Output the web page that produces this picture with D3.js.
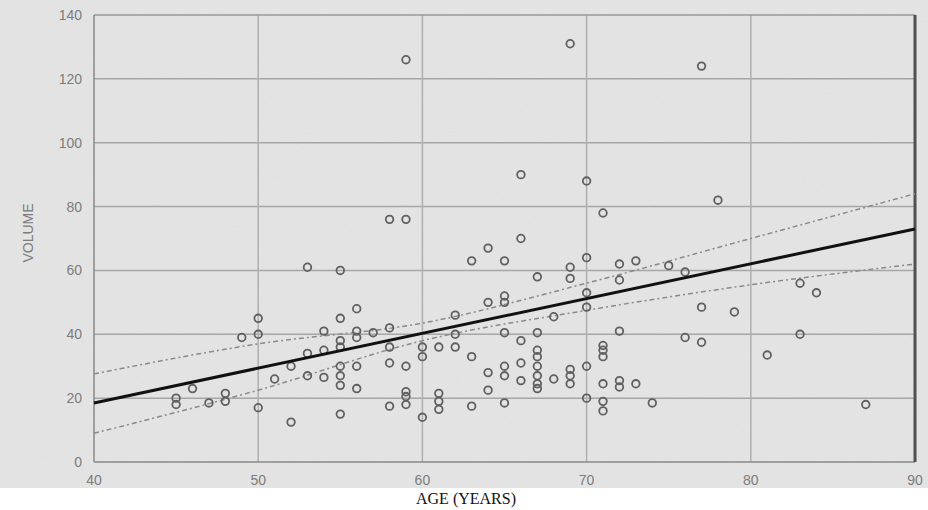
<!DOCTYPE html>
<html>
<head>
<meta charset="utf-8">
<script src="https://cdn.jsdelivr.net/npm/d3@7"></script>
<style>
  body { margin: 0; background: #ffffff; }
  svg { display: block; }
</style>
</head>
<body>
<svg id="chart" width="928" height="510"></svg>
<script>
// scatter data: age (years) and volume
const ages = [
  45, 45, 46, 47, 48, 48, 49, 50, 50, 50, 51, 52, 52,
  53, 53, 53, 54, 54, 54,
  55, 55, 55, 55, 55, 55, 55, 55,
  56, 56, 56, 56, 56, 57,
  58, 58, 58, 58, 58,
  59, 59, 59, 59, 59, 59,
  60, 60, 60, 61, 61, 61, 61, 62, 62, 62,
  63, 63, 63, 64, 64, 64, 64,
  65, 65, 65, 65, 65, 65, 65,
  66, 66, 66, 66, 66,
  67, 67, 67, 67, 67, 67, 67, 67,
  68, 68, 69, 69, 69, 69, 69, 69,
  70, 70, 70, 70, 70, 70,
  71, 71, 71, 71, 71, 71, 71,
  72, 72, 72, 72, 72, 73, 73, 74, 75, 76, 76,
  77, 77, 77, 78, 79, 81, 83, 83, 84, 87
];
const volumes = [
  20, 18, 23, 18.5, 21.5, 19, 39, 45, 40, 17, 26, 30, 12.5,
  61, 34, 27, 41, 35, 26.5,
  60, 45, 38, 36, 30, 27, 24, 15,
  48, 41, 39, 30, 23, 40.5,
  76, 42, 36, 31, 17.5,
  126, 76, 30, 22, 20.5, 18,
  36, 33, 14, 36, 21.5, 19, 16.5, 46, 40, 36,
  63, 33, 17.5, 67, 50, 28, 22.5,
  63, 52, 50, 40.5, 30, 27, 18.5,
  90, 70, 38, 31, 25.5,
  58, 40.5, 35, 33, 30, 27, 24.5, 23,
  45.5, 26, 131, 61, 57.5, 29, 27, 24.5,
  88, 64, 53, 48.5, 30, 20,
  78, 36.5, 35, 33, 24.5, 19, 16,
  62, 57, 41, 25.5, 23.5, 63, 24.5, 18.5, 61.5, 59.5, 39,
  124, 48.5, 37.5, 82, 47, 33.5, 56, 40, 53, 18
];

// fitted line and its confidence band
const fitAges = [40, 90];
const fitVolumes = [18.5, 73];
const bandAges = [40, 50, 60, 70, 80, 90];
const bandUpper = [27.6, 37, 43.5, 56, 70, 84];
const bandLower = [9, 22.5, 38, 47.5, 55.5, 62];

const xTicks = [40, 50, 60, 70, 80, 90];
const yTicks = [0, 20, 40, 60, 80, 100, 120, 140];

const svg = d3.select("#chart"),
    width = +svg.attr("width"),
    height = +svg.attr("height");

const x = d3.scaleLinear().domain([40, 90]).range([94, 915]);
const y = d3.scaleLinear().domain([0, 140]).range([462, 15]);

// scanned paper background with a bit of grain
const defs = svg.append("defs");
const grain = defs.append("filter").attr("id", "grain")
    .attr("x", 0).attr("y", 0).attr("width", "100%").attr("height", "100%");
grain.append("feTurbulence")
    .attr("type", "fractalNoise").attr("baseFrequency", 0.9).attr("numOctaves", 2)
    .attr("seed", 3).attr("result", "noise");
grain.append("feColorMatrix").attr("type", "matrix")
    .attr("values", "0 0 0 0 0.5  0 0 0 0 0.5  0 0 0 0 0.5  0 0 0 0.14 0");

svg.append("rect")
    .attr("width", width).attr("height", 488)
    .attr("fill", "#e6e6e6");
svg.append("rect")
    .attr("width", width).attr("height", 488)
    .attr("filter", "url(#grain)");

// grid
svg.append("g")
    .selectAll("line")
    .data(yTicks.slice(1, -1))
    .join("line")
    .attr("x1", x(40)).attr("x2", x(90))
    .attr("y1", d => y(d)).attr("y2", d => y(d))
    .attr("stroke", "#a6a6a6").attr("stroke-width", 1.5);

svg.append("g")
    .selectAll("line")
    .data(xTicks.slice(1, -1))
    .join("line")
    .attr("x1", d => x(d)).attr("x2", d => x(d))
    .attr("y1", y(0)).attr("y2", y(140))
    .attr("stroke", "#afafaf").attr("stroke-width", 1.5);

// frame
svg.append("line")
    .attr("x1", x(40)).attr("x2", x(90)).attr("y1", y(140)).attr("y2", y(140))
    .attr("stroke", "#999").attr("stroke-width", 1.5);
svg.append("line")
    .attr("x1", x(40)).attr("x2", x(90)).attr("y1", y(0)).attr("y2", y(0))
    .attr("stroke", "#888").attr("stroke-width", 1.5);
svg.append("line")
    .attr("x1", x(40)).attr("x2", x(40)).attr("y1", y(0)).attr("y2", y(140))
    .attr("stroke", "#888").attr("stroke-width", 1.5);
svg.append("line")
    .attr("x1", x(90)).attr("x2", x(90)).attr("y1", y(0)).attr("y2", y(140))
    .attr("stroke", "#505050").attr("stroke-width", 3);

// tick labels
const tickFont = "Liberation Sans, Arial, sans-serif";
svg.append("g")
    .selectAll("text")
    .data(yTicks)
    .join("text")
    .attr("x", 82)
    .attr("y", d => y(d) + 5)
    .attr("text-anchor", "end")
    .style("font-family", tickFont)
    .style("font-size", "14px")
    .style("fill", "#7c7c7c")
    .text(d => d);

svg.append("g")
    .selectAll("text")
    .data(xTicks)
    .join("text")
    .attr("x", d => x(d))
    .attr("y", 485)
    .attr("text-anchor", "middle")
    .style("font-family", tickFont)
    .style("font-size", "14px")
    .style("fill", "#7c7c7c")
    .text(d => d);

// axis titles
svg.append("text")
    .attr("transform", "translate(33,233) rotate(-90)")
    .attr("text-anchor", "middle")
    .style("font-family", tickFont)
    .style("font-size", "14px")
    .style("fill", "#7c7c7c")
    .text("VOLUME");

svg.append("text")
    .attr("x", 466)
    .attr("y", 504)
    .attr("text-anchor", "middle")
    .style("font-family", "Liberation Serif, Times New Roman, serif")
    .style("font-size", "16px")
    .style("fill", "#111")
    .text("AGE (YEARS)");

// confidence band
const band = d3.line().curve(d3.curveMonotoneX);
[bandUpper, bandLower].forEach(vals => {
    svg.append("path")
        .attr("d", band(bandAges.map((a, i) => [x(a), y(vals[i])])))
        .attr("fill", "none")
        .attr("stroke", "#8a8a8a")
        .attr("stroke-width", 1.5)
        .attr("stroke-dasharray", "5,3,2,3");
});

// points
svg.append("g")
    .selectAll("circle")
    .data(ages.map((a, i) => ({ age: a, vol: volumes[i] })))
    .join("circle")
    .attr("cx", d => x(d.age))
    .attr("cy", d => y(d.vol))
    .attr("r", 3.8)
    .attr("fill", "none")
    .attr("stroke", "#606060")
    .attr("stroke-width", 1.8);

// regression line
svg.append("path")
    .attr("d", d3.line()(fitAges.map((a, i) => [x(a), y(fitVolumes[i])])))
    .attr("fill", "none")
    .attr("stroke", "#111")
    .attr("stroke-width", 3);
</script>
</body>
</html>
